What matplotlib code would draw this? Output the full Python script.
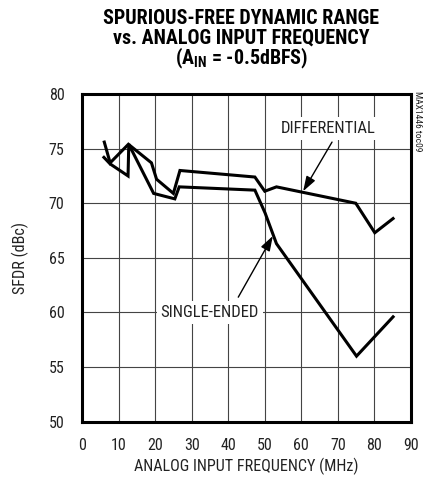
import matplotlib
matplotlib.use("Agg")
import matplotlib.pyplot as plt

FONT = 'Roboto Condensed'
plt.rcParams['font.family'] = [FONT, 'DejaVu Sans']
plt.rcParams['mathtext.fontset'] = 'custom'
plt.rcParams['mathtext.bf'] = FONT + ':bold'
plt.rcParams['mathtext.rm'] = FONT

# Data
diff_x = [6.1, 7.7, 12.7, 19.0, 20.4, 25.0, 26.8, 47.3, 50.0, 53.2, 74.9, 80.1, 85.1]
diff_y = [75.6, 73.7, 75.4, 73.7, 72.2, 70.9, 73.0, 72.4, 71.1, 71.5, 70.0, 67.3, 68.6]
se_x = [6.0, 7.7, 12.6, 12.8, 19.6, 25.4, 26.6, 47.3, 50.1, 53.2, 75.1, 85.1]
se_y = [74.2, 73.6, 72.5, 75.4, 70.9, 70.4, 71.5, 71.2, 69.1, 66.3, 56.0, 59.6]
xticks = [0, 10, 20, 30, 40, 50, 60, 70, 80, 90]
yticks = [50, 55, 60, 65, 70, 75, 80]

fig = plt.figure(figsize=(4.27, 4.78), dpi=100)
ax = fig.add_axes([0.192, 0.1178, 0.7705, 0.6855])
ax.set_xlim(0, 90)
ax.set_ylim(50, 80)
ax.set_xticks(xticks)
ax.set_yticks(yticks)
ax.grid(True, color='#444444', linewidth=0.8)
ax.set_axisbelow(True)
for s in ax.spines.values():
    s.set_linewidth(2.2)
ax.tick_params(length=0, labelsize=11.5, labelcolor='#222222')
ax.tick_params(axis='x', pad=12)
ax.tick_params(axis='y', pad=12.5)

ax.plot(diff_x, diff_y, color='black', lw=2.2, solid_joinstyle='miter', zorder=3)
ax.plot(se_x, se_y, color='black', lw=2.2, solid_joinstyle='miter', zorder=3)

ax.set_xlabel('ANALOG INPUT FREQUENCY (MHz)', fontsize=11.6, labelpad=3, color='#222222')
ax.set_ylabel('SFDR (dBc)', fontsize=11.6, labelpad=14, color='#222222')

arrowprops = dict(arrowstyle='-|>,head_length=0.9,head_width=0.3', color='black', lw=1.0,
                  shrinkA=0, shrinkB=0)
ax.annotate('', xy=(60.5, 71.1), xytext=(68.4, 75.6), arrowprops=arrowprops, zorder=4)
ax.annotate('', xy=(52.2, 67.0), xytext=(42.75, 61.4), arrowprops=arrowprops, zorder=4)
ax.text(67.4, 76.85, 'DIFFERENTIAL', ha='center', va='center', fontsize=12, color='#222222',
        bbox=dict(facecolor='white', edgecolor='none', pad=3), zorder=5)
ax.text(35.0, 60.0, 'SINGLE-ENDED', ha='center', va='center', fontsize=12, color='#222222',
        bbox=dict(facecolor='white', edgecolor='none', pad=3), zorder=5)

fig.text(0.565, 0.962, 'SPURIOUS-FREE DYNAMIC RANGE', ha='center', va='center',
         fontsize=14.4, fontweight='bold')
fig.text(0.565, 0.920, 'vs. ANALOG INPUT FREQUENCY', ha='center', va='center',
         fontsize=14.4, fontweight='bold')
fig.text(0.565, 0.877, r'(A$_{\mathbf{IN}}$ = -0.5dBFS)', ha='center', va='center',
         fontsize=14.4, fontweight='bold')

fig.text(0.978, 0.81, 'MAX1446 toc09', rotation=270, ha='center', va='top', fontsize=6.8,
         color='#222222')

fig.savefig('out.png', dpi=100)
